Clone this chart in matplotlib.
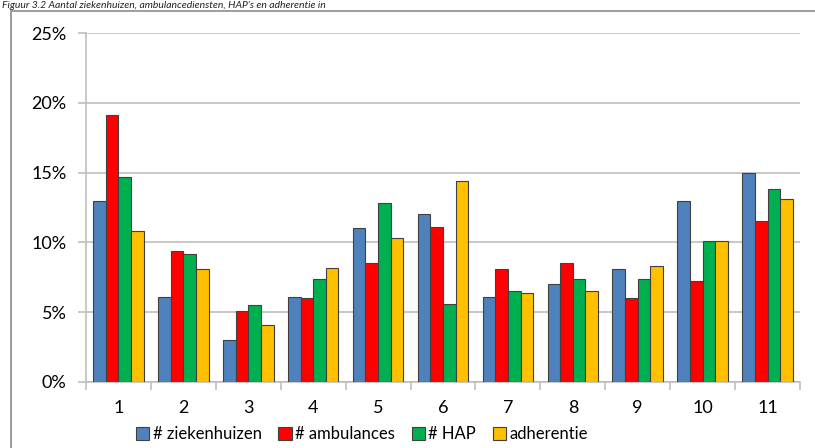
import numpy as np
import matplotlib.pyplot as plt
from matplotlib.patches import Rectangle
from matplotlib.ticker import FuncFormatter, MultipleLocator

#data (percentages per region)
regions = ['1', '2', '3', '4', '5', '6', '7', '8', '9', '10', '11']
ziekenhuizen = [13.0, 6.1, 3.0, 6.1, 11.0, 12.0, 6.1, 7.0, 8.1, 13.0, 15.0]
ambulances = [19.1, 9.4, 5.1, 6.0, 8.5, 11.1, 8.1, 8.5, 6.0, 7.2, 11.5]
hap = [14.7, 9.2, 5.5, 7.4, 12.8, 5.6, 6.5, 7.4, 7.4, 10.1, 13.8]
adherentie = [10.8, 8.1, 4.1, 8.2, 10.3, 14.4, 6.4, 6.5, 8.3, 10.1, 13.1]

series_names = ['# ziekenhuizen', '# ambulances', '# HAP', 'adherentie']
colors = ['#4F81BD', '#FF0000', '#00B050', '#FFC000']

plt.rcParams['font.family'] = ['Liberation Sans Narrow', 'Lato', 'DejaVu Sans']

fig = plt.figure(figsize=(8.15, 4.48), dpi=100)
ax = fig.add_axes([86/815, 1-382/448, (800-86)/815, (382-33)/448])

#outer chart border (only left and top visible)
fig.patches.append(Rectangle((11/815, -0.1), 1.2, 1 - 11/448 + 0.1, transform=fig.transFigure,
                             fill=False, edgecolor='#8c8c8c', linewidth=1.2))

#caption above the chart box
fig.text(0.002, 1 - 8/448, "Figuur 3.2 Aantal ziekenhuizen, ambulancediensten, HAP's en adherentie in",
         fontsize=7.5, style='italic', va='baseline', ha='left', color='#222222')

x = np.arange(len(regions))
w = 0.195
data = [ziekenhuizen, ambulances, hap, adherentie]
for i, vals in enumerate(data):
    ax.bar(x + (i - 1.5) * w, vals, w, color=colors[i], edgecolor='#404040',
           linewidth=0.8, label=series_names[i], zorder=3)

ax.set_xlim(-0.5, len(regions) - 0.5)
ax.set_ylim(0, 25)
ax.yaxis.set_major_locator(MultipleLocator(5))
ax.yaxis.set_major_formatter(FuncFormatter(lambda v, p: f'{v:.0f}%'))
ax.grid(axis='y', color='#bfbfbf', linewidth=1.2, zorder=0)

ax.set_xticks(x)
ax.set_xticklabels(regions)
ax.set_xticks(np.arange(len(regions) + 1) - 0.5, minor=True)
ax.tick_params(axis='x', which='major', length=0, pad=13, labelsize=13)
ax.tick_params(axis='x', which='minor', length=6, color='#bfbfbf', width=1.2)
ax.tick_params(axis='y', length=6, color='#bfbfbf', width=1.2, pad=8, labelsize=13)

for s in ['top', 'right']:
    ax.spines[s].set_visible(False)
for s in ['left', 'bottom']:
    ax.spines[s].set_color('#bfbfbf')
    ax.spines[s].set_linewidth(1.2)

fig.legend(loc='center', bbox_to_anchor=(362/815, 1 - 434/448), ncol=4, frameon=False,
           fontsize=12, handlelength=0.8, handleheight=0.8, handletextpad=0.2,
           columnspacing=1.0, borderpad=0)

fig.savefig('out.png', dpi=100)
